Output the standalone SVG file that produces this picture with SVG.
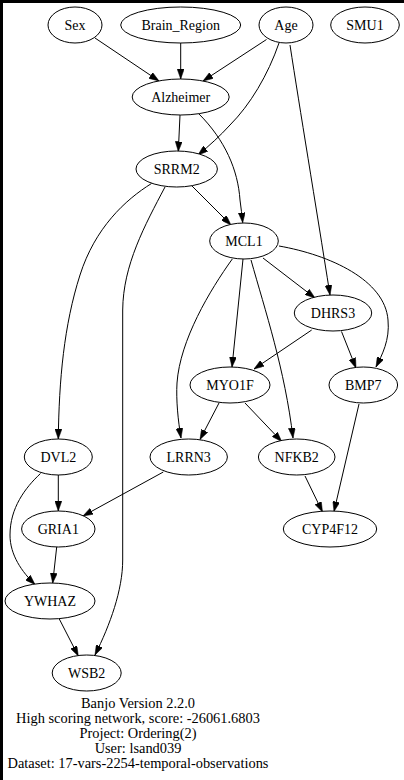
<svg xmlns="http://www.w3.org/2000/svg" width="404" height="780" viewBox="0 0 404 780">
<style>
.n ellipse{fill:#fff;stroke:#000;stroke-width:1}
text{font-family:"Liberation Serif","Times New Roman",serif;font-size:14px;fill:#000;text-anchor:middle}
#footer text{font-size:14.4px}
.e path{fill:none;stroke:#000;stroke-width:1;marker-end:url(#ah)}
</style>
<defs>
<marker id="ah" markerUnits="userSpaceOnUse" markerWidth="10" markerHeight="7" refX="10" refY="3.5" orient="auto">
<path d="M0,0 L10,3.5 L0,7 z" fill="#000" stroke="#000" stroke-width="0.5"/>
</marker>
</defs>
<rect x="0" y="0" width="404" height="780" fill="#000"/>
<rect x="3" y="3" width="401" height="777" fill="#fff"/>
<g id="connectors" class="e">
<path d="M95,38 L159,81"/>
<path d="M180.7,43 L180.7,79"/>
<path d="M266.5,39.5 L203,81"/>
<path d="M279,43 C268,75 250,105 230,125 C220,136 210,145 198,155"/>
<path d="M290,45 C300,110 315,200 330,295"/>
<path d="M180,115 L178.3,151.5"/>
<path d="M199,114 C225,140 238,170 240,200 C241,208 242,215 242.7,222.7"/>
<path d="M191,185 L231,225"/>
<path d="M151.5,183.5 C125,200 95,228 80,275 C64,325 59,380 58.3,439"/>
<path d="M165,187 C145,225 123,265 122.7,310 L122.7,560 C122.7,590 110,625 95,655"/>
<path d="M263,258 L315,298"/>
<path d="M279,246 C330,255 385,280 388,320 C390,340 382,355 376,367"/>
<path d="M243,259 L232,367"/>
<path d="M232.3,259 C210,290 180,340 177,383 C176,400 178,420 181,438"/>
<path d="M251,260 C265,310 285,370 293,438"/>
<path d="M311.7,330 L254,369"/>
<path d="M341.5,331.5 L356,368"/>
<path d="M219,403 L200,439.5"/>
<path d="M245,403 L281.7,441.5"/>
<path d="M359,404 L334,511.5"/>
<path d="M305,476 L322.5,512"/>
<path d="M58.3,475 L58.3,511"/>
<path d="M40.5,473.5 C25,488 10,508 10,535 C10,555 22,572 35,584.5"/>
<path d="M163.3,472 L83,516"/>
<path d="M56.7,547 L52.7,583"/>
<path d="M59.3,619 L78.3,656"/>
</g>
<g id="Sex" class="n"><ellipse cx="75" cy="25" rx="27" ry="18"/><text x="75" y="30">Sex</text></g>
<g id="Brain_Region" class="n"><ellipse cx="180.7" cy="25" rx="60" ry="18"/><text x="180.7" y="30">Brain_Region</text></g>
<g id="Age" class="n"><ellipse cx="286" cy="25" rx="27" ry="18"/><text x="286" y="30">Age</text></g>
<g id="SMU1" class="n"><ellipse cx="365" cy="25" rx="34.3" ry="18"/><text x="365" y="30">SMU1</text></g>
<g id="Alzheimer" class="n"><ellipse cx="180.7" cy="97" rx="48.5" ry="18"/><text x="180.7" y="102">Alzheimer</text></g>
<g id="SRRM2" class="n"><ellipse cx="176.7" cy="169" rx="40.7" ry="18"/><text x="176.7" y="174">SRRM2</text></g>
<g id="MCL1" class="n"><ellipse cx="244" cy="241" rx="34.3" ry="18"/><text x="244" y="246">MCL1</text></g>
<g id="DHRS3" class="n"><ellipse cx="333" cy="313" rx="38.7" ry="18"/><text x="333" y="318">DHRS3</text></g>
<g id="MYO1F" class="n"><ellipse cx="230" cy="385" rx="40" ry="18"/><text x="230" y="390">MYO1F</text></g>
<g id="BMP7" class="n"><ellipse cx="363.3" cy="385" rx="34.3" ry="18"/><text x="363.3" y="390">BMP7</text></g>
<g id="DVL2" class="n"><ellipse cx="58.3" cy="457" rx="34" ry="18"/><text x="58.3" y="462">DVL2</text></g>
<g id="LRRN3" class="n"><ellipse cx="188.7" cy="457" rx="38.7" ry="18"/><text x="188.7" y="462">LRRN3</text></g>
<g id="NFKB2" class="n"><ellipse cx="296.7" cy="457" rx="38.3" ry="18"/><text x="296.7" y="462">NFKB2</text></g>
<g id="GRIA1" class="n"><ellipse cx="58.3" cy="529" rx="36.7" ry="18"/><text x="58.3" y="534">GRIA1</text></g>
<g id="CYP4F12" class="n"><ellipse cx="330" cy="529" rx="46.7" ry="18"/><text x="330" y="534">CYP4F12</text></g>
<g id="YWHAZ" class="n"><ellipse cx="50" cy="601" rx="45" ry="18"/><text x="50" y="606">YWHAZ</text></g>
<g id="WSB2" class="n"><ellipse cx="86.7" cy="673" rx="34.5" ry="18"/><text x="86.7" y="678">WSB2</text></g>
<g id="footer">
<text x="138" y="708">Banjo Version 2.2.0</text>
<text x="138" y="723">High scoring network, score: -26061.6803</text>
<text x="138" y="738">Project: Ordering(2)</text>
<text x="138" y="753">User: lsand039</text>
<text x="138" y="768">Dataset: 17-vars-2254-temporal-observations</text>
</g>
</svg>
